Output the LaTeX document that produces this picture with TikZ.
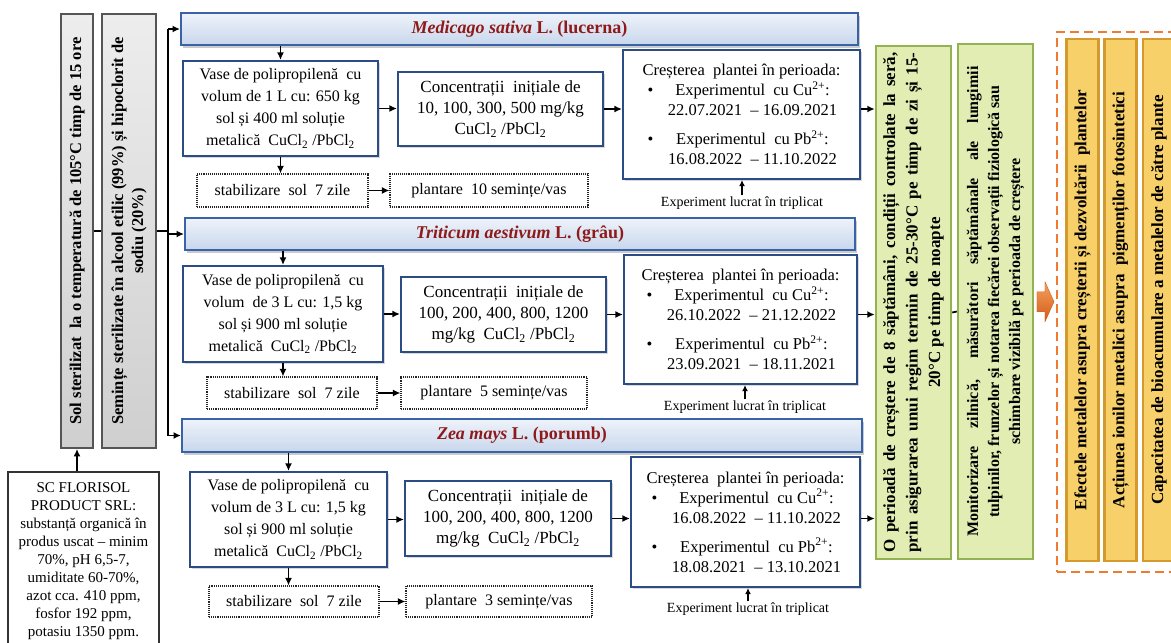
\documentclass[tikz,border=0pt]{standalone}
\usepackage{fontspec}
\setmainfont{Liberation Serif}
\usetikzlibrary{arrows.meta,shadows,calc}

\definecolor{hdrtop}{HTML}{EEF3FA}
\definecolor{hdrbot}{HTML}{C8D6EC}
\definecolor{hdrline}{HTML}{3A62A6}
\definecolor{hdrtxt}{HTML}{8E1A1A}
\definecolor{bxline}{HTML}{2B4C85}
\definecolor{graylt}{HTML}{EDEDED}
\definecolor{graydk}{HTML}{CFCFCF}
\definecolor{grayline}{HTML}{555555}
\definecolor{grnfill}{HTML}{E2EDB3}
\definecolor{grnline}{HTML}{93B254}
\definecolor{yelfill}{HTML}{F8D06A}
\definecolor{yelline}{HTML}{D49A2E}
\definecolor{orgline}{HTML}{EE7B30}
\definecolor{orgtop}{HTML}{F6A25E}
\definecolor{orgbot}{HTML}{D25A17}

\newcommand{\fs}[2]{\fontsize{#1}{#2}\selectfont}
\newcommand{\cbul}[1]{\makebox[22pt][l]{\hspace{5pt}\textbullet}\makebox[176pt]{#1}}
\newcommand{\crow}[1]{\makebox[22pt][l]{}\makebox[176pt]{#1}}

\begin{document}
\begin{tikzpicture}[x=1pt,y=-1pt,
  base/.style={inner sep=0pt, align=center, font=\fs{16}{22}},
  hdr/.style={base, draw=hdrline, line width=2pt, top color=hdrtop, bottom color=hdrbot,
    minimum height=32pt, font=\bfseries\fs{18}{22}, text=hdrtxt,
    drop shadow={shadow xshift=2pt, shadow yshift=-2.5pt, fill=black!40}},
  wbox/.style={base, draw=bxline, line width=2.2pt, fill=white,
    drop shadow={shadow xshift=1.5pt, shadow yshift=-1.5pt, fill=black!30}},
  kbox/.style={wbox, font=\fs{17}{21}},
  dbox/.style={base, draw=black!85, densely dotted, line width=1.1pt, fill=white},
  crbox/.style={wbox, font=\fs{16.5}{20}},
  graybox/.style={inner sep=0pt, align=center, rotate=90, draw=grayline, line width=1.8pt,
    top color=graylt, bottom color=graydk, font=\bfseries\fs{16.5}{20}},
  grnbox/.style={inner sep=0pt, align=center, rotate=90, draw=grnline, line width=2.5pt,
    fill=grnfill, font=\bfseries\fs{17}{22.5}},
  yelbox/.style={inner sep=0pt, align=center, rotate=90, draw=yelline, line width=2.4pt,
    fill=yelfill, font=\bfseries\fs{17}{18}},
  dashfrm/.style={draw=orgline, line width=2.6pt, dash pattern=on 9pt off 5pt},
  scbox/.style={inner xsep=0pt, inner ysep=11pt, align=center, draw=black!80, line width=2pt,
    fill=white, font=\fs{15}{18}},
  trip/.style={inner sep=1pt, font=\fs{14}{16}},
  arr/.style={draw=black, line width=1.8pt, -{Latex[length=7.5pt,width=7pt]}},
  link/.style={draw=black, line width=1.8pt}
]
\fill[white] (0,0) rectangle (1171,643);
\useasboundingbox (0,0) rectangle (1171,643);

% ---- preparation column ----
\node[graybox, minimum width=434pt, minimum height=32pt] (b1) at (77,231)
  {Sol sterilizat \ la o temperatură de 105°C timp de 15 ore};
\node[graybox, minimum width=434pt, minimum height=54pt] (b2) at (129,231)
  {Semințe sterilizate în alcool etilic (99\%) și hipoclorit de\\sodiu (20\%)};
\node[scbox, anchor=north, minimum width=151pt] (sc) at (83.5,471)
  {SC FLORISOL\\PRODUCT SRL:\\substanță organică în\\produs uscat – minim\\70\%, pH 6,5-7,\\umiditate 60-70\%,\\azot cca. 410 ppm,\\fosfor 192 ppm,\\potasiu 1350 ppm.\\[20pt]\mbox{}};
\coordinate (tk) at (168,231);

% ---- species headers ----
\node[hdr, minimum width=677pt] (h1) at (519.5,29) {{\itshape Medicago sativa} L. (lucerna)};
\node[hdr, minimum width=670pt] (h2) at (520,234) {{\itshape Triticum aestivum} L. (grâu)};
\node[hdr, minimum width=680pt, minimum height=33pt] (h3) at (522,435.5) {{\itshape Zea mays} L. (porumb)};

% ---- Medicago sativa ----
\node[wbox, minimum width=195pt, minimum height=95pt] (v1) at (280.5,108.5)
  {Vase de polipropilenă \ cu\\volum de 1 L cu: 650 kg\\sol și 400 ml soluție\\metalică \ CuCl\textsubscript{2} /PbCl\textsubscript{2}};
\node[kbox, minimum width=205pt, minimum height=74pt] (k1) at (500.5,109)
  {Concentrații \ inițiale de\\10, 100, 300, 500 mg/kg\\CuCl\textsubscript{2} /PbCl\textsubscript{2}};
\node[crbox, minimum width=237pt, minimum height=129pt] (c1) at (741.5,114.5)
  {Creșterea \ plantei în perioada:\\
   \cbul{Experimentul \ cu Cu\textsuperscript{2+}:}\\
   \crow{22.07.2021 \ – 16.09.2021}\\[9pt]
   \cbul{Experimentul \ cu Pb\textsuperscript{2+}:}\\
   \crow{16.08.2022 \ – 11.10.2022}};
\node[dbox, minimum width=171pt, minimum height=33pt] (s1) at (282.5,190.5) {stabilizare \ sol \ 7 zile};
\node[dbox, minimum width=198pt, minimum height=33pt] (p1) at (489,190.5) {plantare \ 10 semințe/vas};
\node[trip] (t1) at (742,203) {Experiment lucrat în triplicat};

% ---- Triticum aestivum ----
\node[wbox, minimum width=200pt, minimum height=96pt] (v2) at (283,314)
  {Vase de polipropilenă \ cu\\volum \ de 3 L cu: 1,5 kg\\sol și 900 ml soluție\\metalică \ CuCl\textsubscript{2} /PbCl\textsubscript{2}};
\node[kbox, minimum width=205pt, minimum height=75pt] (k2) at (503.5,314.5)
  {Concentrații \ inițiale de\\100, 200, 400, 800, 1200\\mg/kg \ CuCl\textsubscript{2} /PbCl\textsubscript{2}};
\node[crbox, minimum width=233pt, minimum height=129pt] (c2) at (740.5,319.5)
  {Creșterea \ plantei în perioada:\\
   \cbul{Experimentul \ cu Cu\textsuperscript{2+}:}\\
   \crow{26.10.2022 \ – 21.12.2022}\\[9pt]
   \cbul{Experimentul \ cu Pb\textsuperscript{2+}:}\\
   \crow{23.09.2021 \ – 18.11.2021}};
\node[dbox, minimum width=170pt, minimum height=32pt] (s2) at (292,393) {stabilizare \ sol \ 7 zile};
\node[dbox, minimum width=186pt, minimum height=32pt] (p2) at (494,393) {plantare \ 5 semințe/vas};
\node[trip] (t2) at (745,407) {Experiment lucrat în triplicat};

% ---- Zea mays ----
\node[wbox, minimum width=197pt, minimum height=95pt] (v3) at (288.5,519.5)
  {Vase de polipropilenă \ cu\\volum de 3 L cu: 1,5 kg\\sol și 900 ml soluție\\metalică \ CuCl\textsubscript{2} /PbCl\textsubscript{2}};
\node[kbox, minimum width=206pt, minimum height=75pt] (k3) at (508,518.5)
  {Concentrații \ inițiale de\\100, 200, 400, 800, 1200\\mg/kg \ CuCl\textsubscript{2} /PbCl\textsubscript{2}};
\node[crbox, minimum width=229pt, minimum height=130pt] (c3) at (745.5,522)
  {Creșterea \ plantei în perioada:\\
   \cbul{Experimentul \ cu Cu\textsuperscript{2+}:}\\
   \crow{16.08.2022 \ – 11.10.2022}\\[9pt]
   \cbul{Experimentul \ cu Pb\textsuperscript{2+}:}\\
   \crow{18.08.2021 \ – 13.10.2021}};
\node[dbox, minimum width=170pt, minimum height=31pt] (s3) at (294,601.5) {stabilizare \ sol \ 7 zile};
\node[dbox, minimum width=186pt, minimum height=31pt] (p3) at (499,601.5) {plantare \ 3 semințe/vas};
\node[trip] (t3) at (748,609) {Experiment lucrat în triplicat};

% ---- growth conditions and monitoring ----
\node[grnbox, minimum width=513pt, minimum height=75pt] (g1) at (913.5,302.5)
  {\makebox[500pt][s]{O perioadă de creștere de 8 săptămâni, condiții controlate la seră,}\\
   \makebox[500pt][s]{prin asigurarea unui regim termin de 25-30°C pe timp de zi și 15-}\\
   20°C pe timp de noapte};
\node[grnbox, minimum width=515pt, minimum height=75pt, font=\bfseries\fs{16}{21}] (g2) at (995.5,301.5)
  {\makebox[470pt][s]{Monitorizare zilnică, măsurători săptămânale ale lungimii}\\
   tulpinilor, frunzelor și notarea fiecărei observații fiziologică sau\\
   schimbare vizibilă pe perioada de creștere};

% ---- outcomes ----
\node[dashfrm, minimum width=126pt, minimum height=540pt] (frm) at (1120,302) {};
\node[yelbox, minimum width=522pt, minimum height=32pt] (y1) at (1082.5,300)
  {Efectele metalelor asupra creșterii și dezvoltării \ plantelor};
\node[yelbox, minimum width=522pt, minimum height=32pt] (y2) at (1120.5,300)
  {Acțiunea ionilor metalici asupra \ pigmenților fotosintetici};
\node[yelbox, minimum width=522pt, minimum height=32pt] (y3) at (1159,300)
  {Capacitatea de bioacumulare a metalelor de către plante};

% ---- connectors: preparation ----
\draw[arr] (b1.west |- sc.north) -- (b1.west);
\draw[link] (b1.south) -- (b2.north);
\draw[link] (b2.south) -- (tk);
\draw[link] (tk |- h1.west) -- (tk |- h3.west);
\draw[arr] (tk |- h1.west) -- (h1.west);
\draw[arr] (tk |- h2.west) -- (h2.west);
\draw[arr] (tk |- h3.west) -- (h3.west);

% ---- connectors: each species row ----
\foreach \i in {1,2,3}{
  \draw[arr] (h\i.south -| v\i) -- (v\i.north);
  \draw[arr] (v\i.south) -- (v\i.south |- s\i.north);
  \draw[arr] (s\i.east) -- (p\i.west);
  \draw[arr] (v\i.east) -- (v\i.east -| k\i.west);
  \draw[arr] (k\i.east) -- (k\i.east -| c\i.west);
  \draw[arr] (c\i.east |- k\i.east) -- (k\i.east -| g1.north);
  \draw[arr, -{Latex[length=6pt,width=6pt]}] (t\i.north) -- (t\i.north |- c\i.south);
}

% ---- connectors: right part ----
\draw[link] ($(g1.south)+(0,10)$) -- ($(g2.north)+(0,10)$);
\coordinate (oa) at ($(g2.south)!0.5!(frm.west)$);
\shade[top color=orgtop, bottom color=orgbot, draw=orgbot, line width=0.4pt]
  (oa) ++(-8,-10) -- ++(8,0) -- ++(0,-10) -- ++(9,20) -- ++(-9,20) -- ++(0,-10) -- ++(-8,0) -- cycle;
\end{tikzpicture}
\end{document}
